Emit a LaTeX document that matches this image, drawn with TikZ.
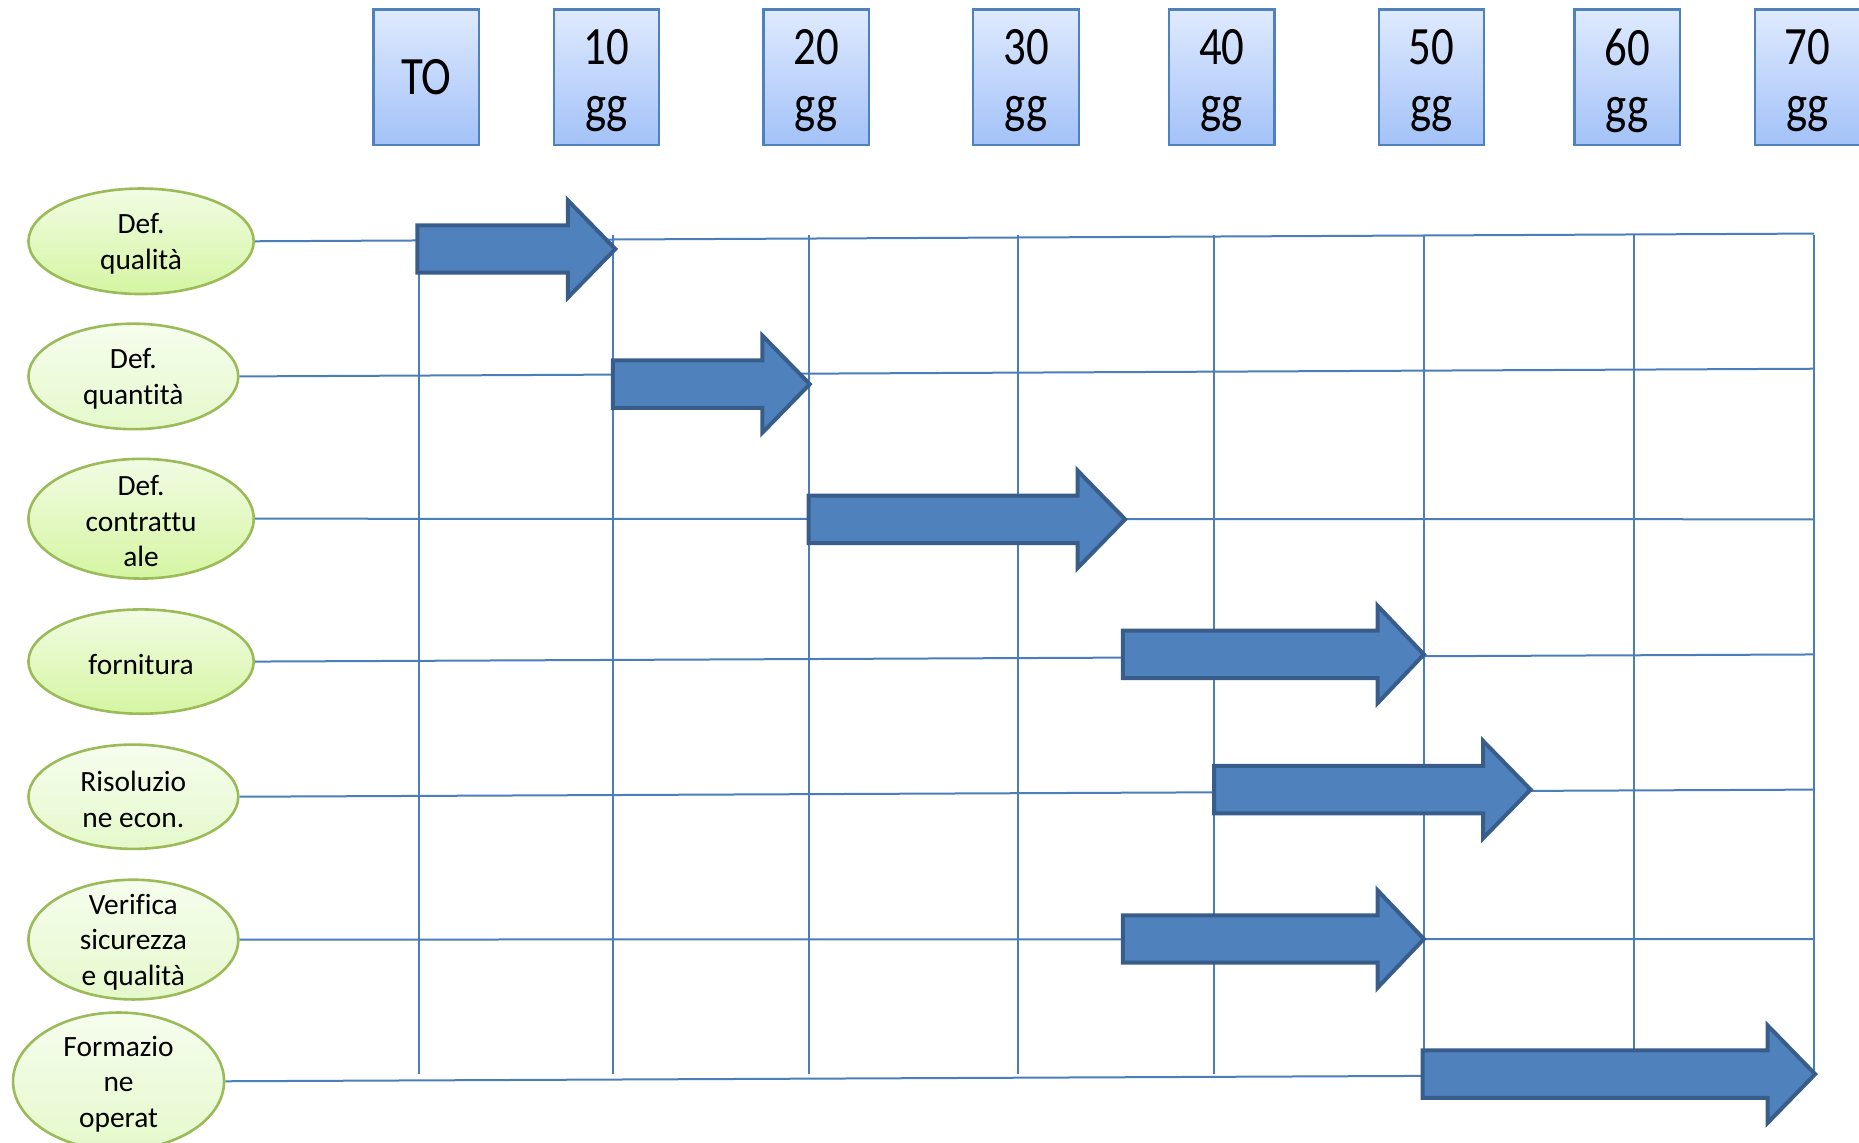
\documentclass[tikz,border=0pt]{standalone}
\usepackage{fontspec}
\setmainfont{Carlito}[Ligatures=CommonOff]
\newfontfamily\hdrfam{Carlito}[FakeStretch=0.83]
\usetikzlibrary{shapes.geometric}
\definecolor{hdrline}{HTML}{4F81BD}
\definecolor{boxtop}{HTML}{DFEAFE}
\definecolor{boxbot}{HTML}{A3C2F8}
\definecolor{gridblue}{HTML}{4A7EBB}
\definecolor{arrfill}{HTML}{4F81BD}
\definecolor{arrdraw}{HTML}{385D8A}
\definecolor{elldraw}{HTML}{9BBB59}
\definecolor{ellAtop}{HTML}{F1FCE3}
\definecolor{ellAbot}{HTML}{D5F5A2}
\definecolor{ellBtop}{HTML}{F6FDEE}
\definecolor{ellBbot}{HTML}{E5F9CB}
\begin{document}
\begin{tikzpicture}[x=0.5928pt, y=-0.5928pt,
  sz/.style 2 args={minimum width=#1*0.5928pt, minimum height=#2*0.5928pt},
  hdr/.style={rectangle, draw=hdrline, line width=1.1pt, top color=boxtop, bottom color=boxbot,
    sz={89}{114}, inner sep=0pt},
  htext/.style={align=center, inner sep=0pt, font=\hdrfam\fontsize{27}{28.8}\selectfont},
  ell/.style={ellipse, draw=elldraw, line width=1.3pt, inner sep=0pt},
  ellA/.style={ell, top color=ellAtop, bottom color=ellAbot},
  ellB/.style={ell, top color=ellBtop, bottom color=ellBbot},
  etext/.style={align=center, inner sep=0pt, yshift=-1.3pt, font=\fontsize{14.7}{17.8}\selectfont},
  gridline/.style={draw=gridblue, line width=1pt},
  ganttarrow/.style={fill=arrfill, draw=arrdraw, line width=2pt, line join=miter}
]
\useasboundingbox (0,0) rectangle (1568,964);

% header boxes
\foreach \n/\x in {0/359.5,1/511.5,2/688.5,3/865.5,4/1030.5,5/1207.5,6/1372.5,7/1524.5}{
  \node[hdr] (h\n) at (\x,65) {};
}
\node[htext, yshift=0pt] (ht0) at (h0) {TO};
\node[htext, yshift=-1.8pt] (ht1) at (h1) {10\\gg};
\node[htext, yshift=-1.8pt] (ht2) at (h2) {20\\gg};
\node[htext, yshift=-1.8pt] (ht3) at (h3) {30\\gg};
\node[htext, yshift=-1.8pt] (ht4) at (h4) {40\\gg};
\node[htext, yshift=-1.8pt] (ht5) at (h5) {50\\gg};
\node[htext, yshift=-1.8pt] (ht6) at (h6) {60\\gg};
\node[htext, yshift=-1.8pt] (ht7) at (h7) {70\\gg};

% vertical grid lines
\foreach \n/\x in {1/353,2/517,3/682,4/859,5/1024,6/1201,7/1378,8/1530}{
  \coordinate (v\n t) at (\x,198);
  \coordinate (v\n b) at (\x,906);
  \draw[gridline] (v\n t) -- (v\n b);
}

% task ellipses
\node[ellA, sz={190}{89}]  (e1) at (119,203.5) {};
\node[ellB, sz={177}{89}]  (e2) at (112.5,317.5) {};
\node[ellA, sz={190}{101}] (e3) at (119,437.5) {};
\node[ellA, sz={190}{88}]  (e4) at (119,558) {};
\node[ellB, sz={177}{88}]  (e5) at (112.5,672) {};
\node[ellB, sz={177}{101}] (e6) at (112.5,792.5) {};
\node[ellB, sz={178}{116}] (e7) at (100,912) {};

\node[etext] (t1) at (e1) {Def.\\qualità};
\node[etext] (t2) at (e2) {Def.\\quantità};
\node[etext] (t3) at (e3) {Def.\\contrattu\\ale};
\node[etext] (t4) at (e4) {fornitura};
\node[etext] (t5) at (e5) {Risoluzio\\ne econ.};
\node[etext] (t6) at (e6) {Verifica\\sicurezza\\e qualità};
\node[etext] (t7) at (e7) {Formazio\\ne\\operat};

% row lines
\coordinate (r1) at (1530,197);
\coordinate (r2) at (1530,311);
\coordinate (r3) at (1530,438);
\coordinate (r4) at (1530,552);
\coordinate (r5) at (1530,666);
\coordinate (r6) at (1530,792);
\coordinate (r7) at (1530,906);
\foreach \n in {1,...,7}{ \draw[gridline] (e\n.east) -- (r\n); }

% gantt arrows
\foreach \xa/\xb/\xc/\yy in {352/479/519/210, 517/643/683/324, 682/909/949/438,
    947/1162/1201/552, 1024/1251/1291/666, 947/1162/1201/792, 1200/1491/1531/906}{
  \path[ganttarrow] (\xa,\yy-20) -- (\xb,\yy-20) -- (\xb,\yy-41) -- (\xc,\yy)
     -- (\xb,\yy+41) -- (\xb,\yy+20) -- (\xa,\yy+20) -- cycle;
}
\end{tikzpicture}
\end{document}
